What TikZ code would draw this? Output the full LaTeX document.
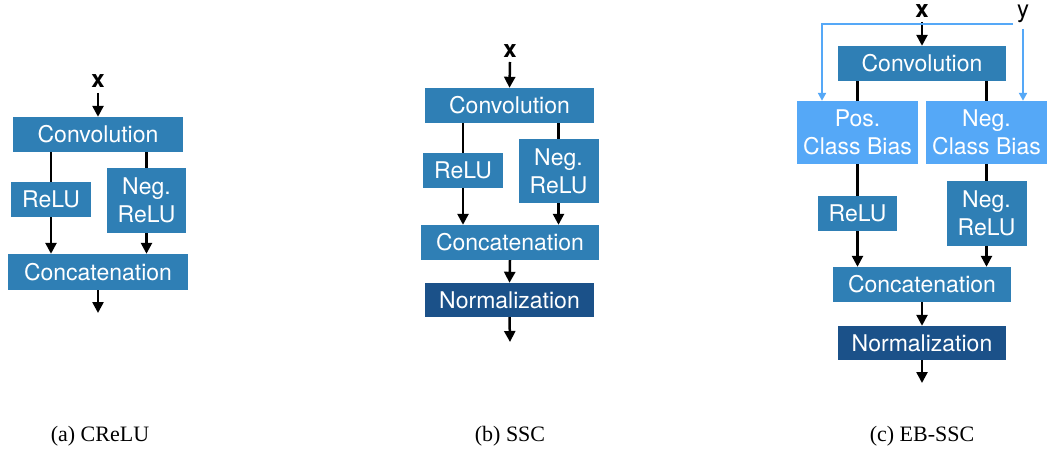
\documentclass[tikz,border=0pt]{standalone}
\usepackage{fontspec}
\setsansfont{TeX Gyre Heros}
\setmainfont{Liberation Serif}
\usetikzlibrary{arrows.meta}

\definecolor{midblue}{HTML}{2F7FB5}
\definecolor{darkblue}{HTML}{1B5189}
\definecolor{lightblue}{HTML}{55A8F7}

\tikzset{
  box/.style={fill=midblue, text=white, inner sep=0pt, align=center,
    font=\sffamily\fontsize{23}{28}\selectfont},
  normbox/.style={box, fill=darkblue},
  biasbox/.style={box, fill=lightblue},
  flow/.style={line width=2.5pt, -{Triangle[width=11pt,length=11pt]}},
  wire/.style={line width=2.5pt},
  ybranch/.style={draw=lightblue, line width=2pt, -{Triangle[width=8pt,length=8pt]}},
  inlabel/.style={font=\sffamily\bfseries\fontsize{24}{28}\selectfont, inner sep=0pt, anchor=base},
  ylabel/.style={font=\sffamily\fontsize{24}{28}\selectfont, inner sep=0pt, anchor=base},
  caption/.style={font=\rmfamily\fontsize{22}{24}\selectfont, inner sep=0pt}
}

\begin{document}
\begin{tikzpicture}[x=1pt, y=-1pt]
\useasboundingbox (0,0) rectangle (1047,449);

% ---------- (a) CReLU ----------
\node[inlabel] (ax) at (98,88) {x};
\coordinate (axs) at (98,93);
\node[box, minimum width=170pt, minimum height=35pt] (aconv) at (98,134.5) {Convolution};
\node[box, minimum width=80pt, minimum height=35pt] (arelu) at (51,199.5) {ReLU};
\node[box, minimum width=79pt, minimum height=65pt] (aneg) at (146.5,200.5) {Neg.\\ReLU};
\node[box, minimum width=180pt, minimum height=36pt] (acat) at (98,272) {Concatenation};
\coordinate (aout) at (98,313);

\draw[flow] (axs) -- (aconv.north);
\draw[wire] (aconv.south -| arelu.north) -- (arelu.north);
\draw[wire] (aconv.south -| aneg.north) -- (aneg.north);
\draw[flow] (arelu.south) -- (acat.north -| arelu.south);
\draw[flow] (aneg.south) -- (acat.north -| aneg.south);
\draw[flow] (acat.south) -- (aout);

\node[caption] (acap) at (100,436) {(a) CReLU};

% ---------- (b) SSC ----------
\node[inlabel] (bx) at (510,58) {x};
\coordinate (bxs) at (510,62);
\node[box, minimum width=169pt, minimum height=35pt] (bconv) at (509.5,105.5) {Convolution};
\node[box, minimum width=80pt, minimum height=35pt] (brelu) at (463,170.5) {ReLU};
\node[box, minimum width=80pt, minimum height=64pt] (bneg) at (558.5,171) {Neg.\\ReLU};
\node[box, minimum width=178pt, minimum height=35pt] (bcat) at (510,242.5) {Concatenation};
\node[normbox, minimum width=169pt, minimum height=34pt] (bnorm) at (509.5,300) {Normalization};
\coordinate (bout) at (510,342);

\draw[flow] (bxs) -- (bconv.north);
\draw[wire] (bconv.south -| brelu.north) -- (brelu.north);
\draw[wire] (bconv.south -| bneg.north) -- (bneg.north);
\draw[flow] (brelu.south) -- (bcat.north -| brelu.south);
\draw[flow] (bneg.south) -- (bcat.north -| bneg.south);
\draw[flow] (bcat.south) -- (bnorm.north);
\draw[flow] (bnorm.south) -- (bout);

\node[caption] (bcap) at (510,436) {(b) SSC};

% ---------- (c) EB-SSC ----------
\node[inlabel] (cx) at (922,18) {x};
\node[ylabel] (cy) at (1023,18) {y};
\coordinate (cxs) at (922,22);
\coordinate (cyl) at (1013,24);
\coordinate (cyr) at (1023,29);
\coordinate (cbend) at (822,24);
\node[box, minimum width=168pt, minimum height=35pt] (cconv) at (922,63.5) {Convolution};
\node[biasbox, minimum width=121pt, minimum height=63pt] (cpos) at (857.5,132.5) {Pos.\\Class Bias};
\node[biasbox, minimum width=121pt, minimum height=63pt] (cnegb) at (986.5,132.5) {Neg.\\Class Bias};
\node[box, minimum width=79pt, minimum height=35pt] (crelu) at (857.5,213.5) {ReLU};
\node[box, minimum width=80pt, minimum height=65pt] (cneg) at (986.5,213.5) {Neg.\\ReLU};
\node[box, minimum width=178pt, minimum height=35pt] (ccat) at (922,284.5) {Concatenation};
\node[normbox, minimum width=168pt, minimum height=34pt] (cnorm) at (922,343) {Normalization};
\coordinate (cout) at (922,383);

\draw[flow] (cxs) -- (cconv.north);
\draw[ybranch] (cyl) -- (cbend) -- (cbend |- cpos.north);
\draw[ybranch] (cyr) -- (cyr |- cnegb.north);
\draw[wire] (cconv.south -| cpos.north) -- (cpos.north);
\draw[wire] (cconv.south -| cnegb.north) -- (cnegb.north);
\draw[wire] (cpos.south) -- (crelu.north);
\draw[wire] (cnegb.south) -- (cneg.north);
\draw[flow] (crelu.south) -- (ccat.north -| crelu.south);
\draw[flow] (cneg.south) -- (ccat.north -| cneg.south);
\draw[flow] (ccat.south) -- (cnorm.north);
\draw[flow] (cnorm.south) -- (cout);

\node[caption] (ccap) at (922,436) {(c) EB-SSC};
\end{tikzpicture}
\end{document}
